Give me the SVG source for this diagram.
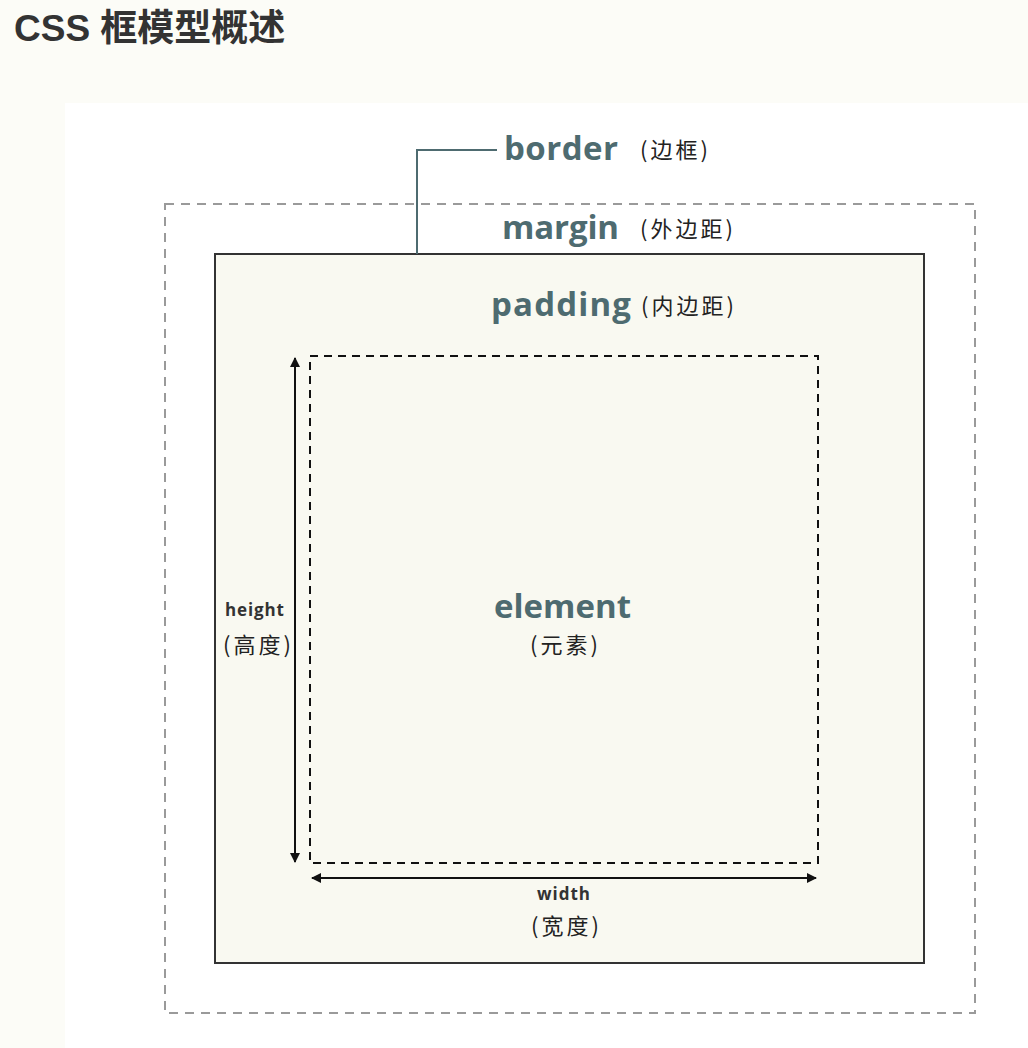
<svg xmlns="http://www.w3.org/2000/svg" width="1028" height="1048" viewBox="0 0 1028 1048">
<defs>
<style>
.title{font-family:"Liberation Sans","Noto Sans CJK SC",sans-serif;font-weight:bold;font-size:37px;fill:#333}
.big{font-family:"Open Sans",Lato,sans-serif;font-weight:bold;font-size:33px;fill:#4e6b70}
.cn{font-family:"Noto Sans CJK SC",sans-serif;font-size:22px;letter-spacing:3px;fill:#222}
.small{font-family:"Open Sans",Lato,sans-serif;font-weight:bold;font-size:17px;fill:#333}
.dim{stroke:#111;stroke-width:2;fill:none}
</style>
<marker id="ah" viewBox="0 0 10 10" refX="9" refY="5" markerWidth="5" markerHeight="5" orient="auto-start-reverse">
<path d="M0,0 L10,5 L0,10 z" fill="#111"/>
</marker>
</defs>
<rect x="0" y="0" width="1028" height="1048" fill="#fcfcf7"/>
<rect x="65" y="103" width="963" height="945" fill="#ffffff"/>
<text class="title" x="14" y="41">CSS 框模型概述</text>

<g id="margin">
<rect x="165" y="204" width="810" height="809" fill="none" stroke="#9a9a9a" stroke-width="2" stroke-dasharray="9,7"/>
<text class="big" x="502" y="239" textLength="117">margin</text>
<text class="cn" x="640" y="237">(外边距)</text>
</g>

<g id="border">
<rect x="215" y="254" width="709" height="709" fill="#f9f9f1" stroke="#333" stroke-width="2"/>
<text class="big" x="504" y="160" textLength="114">border</text>
<text class="cn" x="640" y="158">(边框)</text>
</g>

<g id="padding">
<text class="big" x="491" y="316" textLength="140">padding</text>
<text class="cn" x="641" y="314">(内边距)</text>
</g>

<g id="element">
<rect x="310" y="356" width="508" height="507" fill="none" stroke="#111" stroke-width="2" stroke-dasharray="8,6"/>
<text class="big" x="494" y="618" textLength="137">element</text>
<text class="cn" x="530" y="653">(元素)</text>
</g>

<g id="height">
<text class="small" x="225" y="616" textLength="59">height</text>
<text class="cn" x="223" y="653">(高度)</text>
</g>

<g id="width">
<text class="small" x="537" y="900" textLength="53">width</text>
<text class="cn" x="531" y="934">(宽度)</text>
</g>

<g id="connectors">
<polyline points="417,254 417,150 497,150" fill="none" stroke="#4e6b70" stroke-width="2"/>
<line class="dim" x1="295" y1="358" x2="295" y2="862" marker-start="url(#ah)" marker-end="url(#ah)"/>
<line class="dim" x1="312" y1="878" x2="816" y2="878" marker-start="url(#ah)" marker-end="url(#ah)"/>
</g>
</svg>
